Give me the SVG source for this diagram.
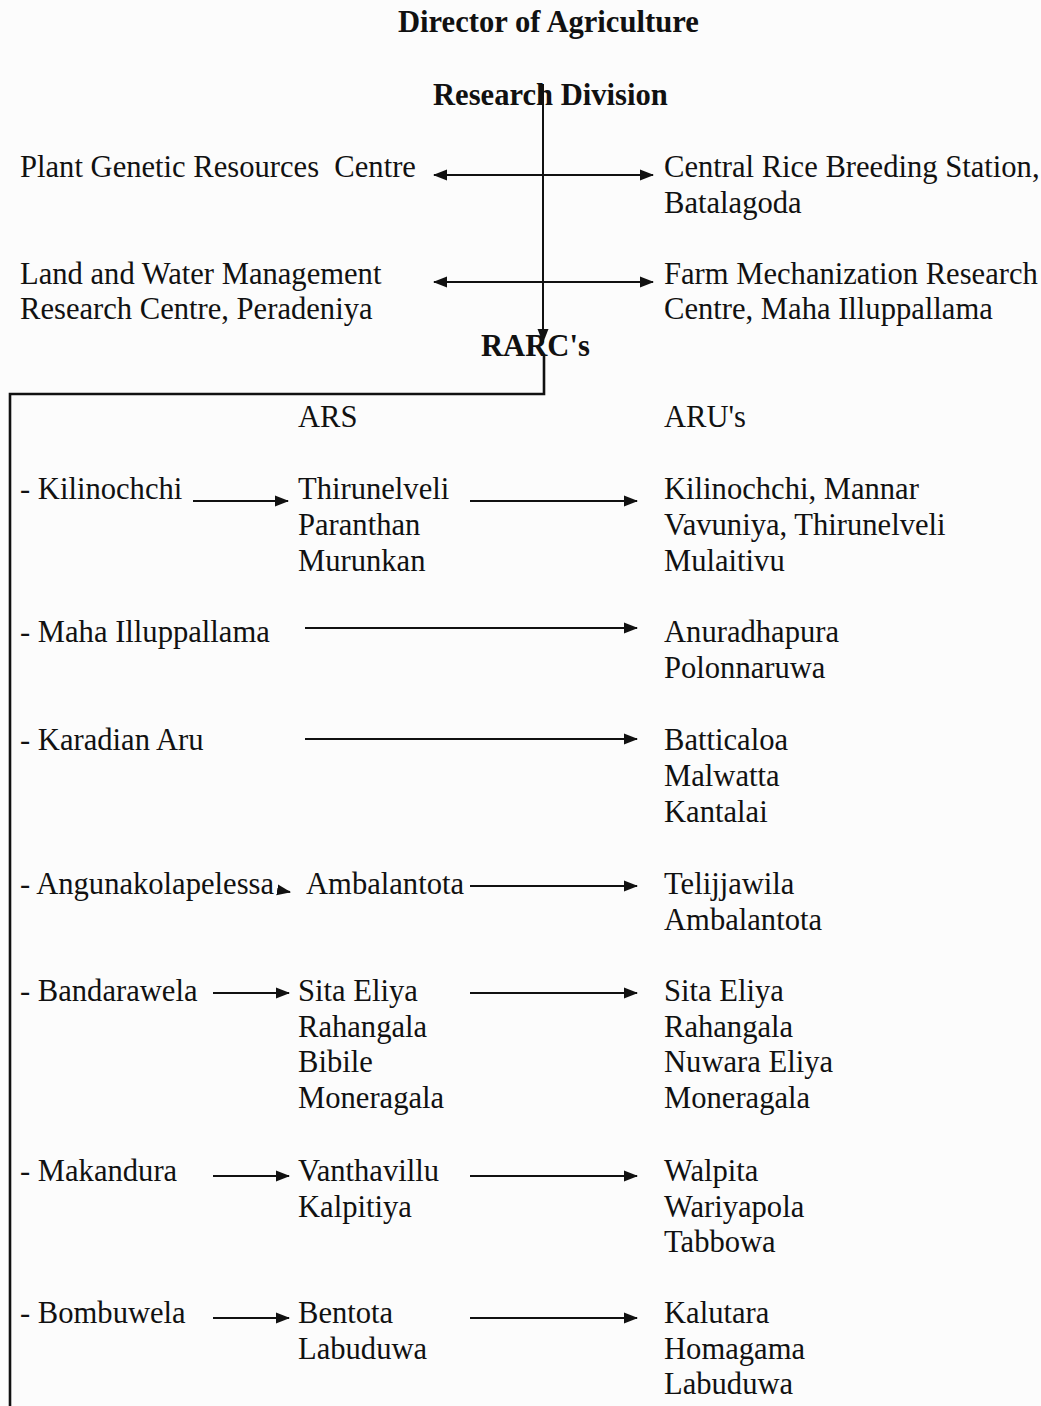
<svg xmlns="http://www.w3.org/2000/svg" width="1041" height="1406" viewBox="0 0 1041 1406">
<defs>
<marker id="ah" markerUnits="userSpaceOnUse" markerWidth="14" markerHeight="12" refX="13" refY="6" orient="auto-start-reverse">
<path d="M0,0.5 L14,6 L0,11.5 z" fill="#111"/>
</marker>
<style>
text{font-family:"Liberation Serif","Times New Roman",serif;font-size:30.6px;fill:#111}
.b{font-weight:bold}
.c{stroke:#111;stroke-width:2;fill:none}
.t{stroke-width:2.6}
.a{marker-end:url(#ah)}
.d{marker-start:url(#ah);marker-end:url(#ah)}
</style>
</defs>
<rect width="1041" height="1406" fill="#fcfcfc"/>
<g id="connectors">
<line class="c a" x1="543" y1="84" x2="543" y2="342"/>
<line class="c d" x1="434" y1="175" x2="653" y2="175"/>
<line class="c d" x1="434" y1="282" x2="653" y2="282"/>
<polyline class="c t" points="544,356 544,394 10,394 10,1406"/>
<line class="c a" x1="193" y1="501" x2="288" y2="501"/>
<line class="c a" x1="470" y1="501" x2="637" y2="501"/>
<line class="c a" x1="305" y1="628" x2="637" y2="628"/>
<line class="c a" x1="305" y1="739" x2="637" y2="739"/>
<line class="c a" x1="278" y1="890" x2="290" y2="892"/>
<line class="c a" x1="470" y1="886" x2="637" y2="886"/>
<line class="c a" x1="213" y1="993" x2="289" y2="993"/>
<line class="c a" x1="470" y1="993" x2="637" y2="993"/>
<line class="c a" x1="213" y1="1176" x2="289" y2="1176"/>
<line class="c a" x1="470" y1="1176" x2="637" y2="1176"/>
<line class="c a" x1="213" y1="1318" x2="289" y2="1318"/>
<line class="c a" x1="470" y1="1318" x2="637" y2="1318"/>
</g>
<g id="director"><text class="b" x="398" y="32">Director of Agriculture</text></g>
<g id="research-division"><text class="b" x="433" y="105">Research Division</text></g>
<g id="pgrc"><text x="20" y="177" xml:space="preserve">Plant Genetic Resources  Centre</text></g>
<g id="crbs"><text x="664" y="177">Central Rice Breeding Station,</text><text x="664" y="213">Batalagoda</text></g>
<g id="lwmrc"><text x="20" y="284">Land and Water Management</text><text x="20" y="319">Research Centre, Peradeniya</text></g>
<g id="fmrc"><text x="664" y="284">Farm Mechanization Research</text><text x="664" y="319">Centre, Maha Illuppallama</text></g>
<g id="rarcs"><text class="b" x="481" y="356">RARC's</text></g>
<g id="ars-head"><text x="298" y="427">ARS</text></g>
<g id="aru-head"><text x="664" y="427">ARU's</text></g>
<g id="kilinochchi"><text x="20" y="499">- Kilinochchi</text></g>
<g id="ars-kilinochchi"><text x="298" y="499">Thirunelveli</text><text x="298" y="535">Paranthan</text><text x="298" y="571">Murunkan</text></g>
<g id="aru-kilinochchi"><text x="664" y="499">Kilinochchi, Mannar</text><text x="664" y="535">Vavuniya, Thirunelveli</text><text x="664" y="571">Mulaitivu</text></g>
<g id="maha"><text x="20" y="642">- Maha Illuppallama</text></g>
<g id="aru-maha"><text x="664" y="642">Anuradhapura</text><text x="664" y="678">Polonnaruwa</text></g>
<g id="karadian"><text x="20" y="750">- Karadian Aru</text></g>
<g id="aru-karadian"><text x="664" y="750">Batticaloa</text><text x="664" y="786">Malwatta</text><text x="664" y="822">Kantalai</text></g>
<g id="angunakolapelessa"><text x="20" y="894">- Angunakolapelessa</text></g>
<g id="ars-angunakolapelessa"><text x="306" y="894">Ambalantota</text></g>
<g id="aru-angunakolapelessa"><text x="664" y="894">Telijjawila</text><text x="664" y="930">Ambalantota</text></g>
<g id="bandarawela"><text x="20" y="1001">- Bandarawela</text></g>
<g id="ars-bandarawela"><text x="298" y="1001">Sita Eliya</text><text x="298" y="1037">Rahangala</text><text x="298" y="1072">Bibile</text><text x="298" y="1108">Moneragala</text></g>
<g id="aru-bandarawela"><text x="664" y="1001">Sita Eliya</text><text x="664" y="1037">Rahangala</text><text x="664" y="1072">Nuwara Eliya</text><text x="664" y="1108">Moneragala</text></g>
<g id="makandura"><text x="20" y="1181">- Makandura</text></g>
<g id="ars-makandura"><text x="298" y="1181">Vanthavillu</text><text x="298" y="1217">Kalpitiya</text></g>
<g id="aru-makandura"><text x="664" y="1181">Walpita</text><text x="664" y="1217">Wariyapola</text><text x="664" y="1252">Tabbowa</text></g>
<g id="bombuwela"><text x="20" y="1323">- Bombuwela</text></g>
<g id="ars-bombuwela"><text x="298" y="1323">Bentota</text><text x="298" y="1359">Labuduwa</text></g>
<g id="aru-bombuwela"><text x="664" y="1323">Kalutara</text><text x="664" y="1359">Homagama</text><text x="664" y="1394">Labuduwa</text></g>
</svg>
